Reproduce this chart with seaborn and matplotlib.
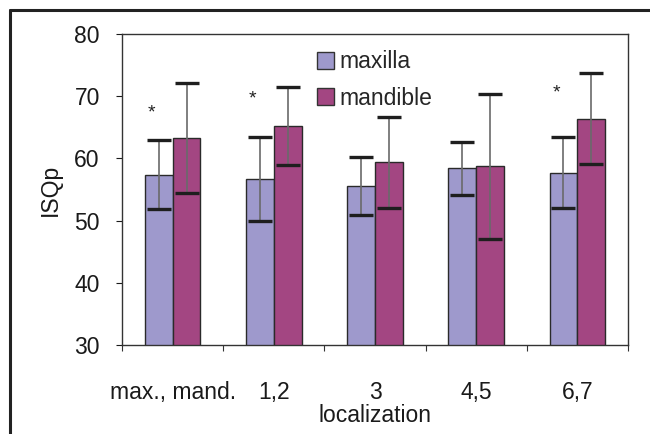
import matplotlib
matplotlib.use("Agg")
import matplotlib.pyplot as plt
from matplotlib.lines import Line2D
from matplotlib.patches import Patch
import numpy as np
import pandas as pd
import seaborn as sns

# ISQ values per implant localization (mean and SD)
categories = ["max., mand.", "1,2", "3", "4,5", "6,7"]
maxilla = [57.4, 56.7, 55.6, 58.4, 57.7]
maxilla_sd = [5.5, 6.7, 4.7, 4.3, 5.7]
mandible = [63.3, 65.2, 59.4, 58.7, 66.4]
mandible_sd = [8.9, 6.3, 7.3, 11.7, 7.3]
# significance marks: category index and height
star_idx = [0, 1, 4]
star_y = [67.3, 69.5, 70.5]

jaws = ["maxilla", "mandible"]
colors = ["#9E99CC", "#A34682"]
FS = 16.5

sns.set_theme(style="ticks")
plt.rcParams["font.family"] = ["Liberation Sans", "DejaVu Sans"]

df = pd.DataFrame({
    "localization": categories * 2,
    "ISQp": maxilla + mandible,
    "jaw": ["maxilla"] * len(categories) + ["mandible"] * len(categories),
})

fig = plt.figure(figsize=(6.5, 4.34), dpi=100)
ax = fig.add_axes([122 / 650, 1 - 345 / 434, 506 / 650, 311 / 434])

sns.barplot(data=df, x="localization", y="ISQp", hue="jaw", hue_order=jaws,
            order=categories, palette=colors, width=0.55, errorbar=None,
            edgecolor="#2a2a2a", linewidth=1.0, saturation=1, ax=ax)

# error bars centred on each bar: grey stems, dark caps
for cont, sd in zip(ax.containers, [maxilla_sd, mandible_sd]):
    xs = [p.get_x() + p.get_width() / 2 for p in cont.patches]
    ys = [p.get_height() + p.get_y() for p in cont.patches]
    _, caps, _ = ax.errorbar(xs, ys, yerr=sd, fmt="none", ecolor="#6a6a6a",
                             elinewidth=1.2, capsize=8.5, capthick=2.4, zorder=4)
    for c in caps:
        c.set_markeredgecolor("#1e1e1e")
        c.set_color("#1e1e1e")

# asterisks above the maxilla bars
max_bars = ax.containers[0].patches
for i, y in zip(star_idx, star_y):
    p = max_bars[i]
    ax.text(p.get_x() + p.get_width() / 2 - 0.07, y, "*", ha="center",
            va="center", fontsize=14, color="#222222")

ax.set_ylim(30, 80)
ax.set_yticks([30, 40, 50, 60, 70, 80])
ax.set_xlim(-0.5, len(categories) - 0.5)

ax.set_xticks(range(len(categories)))
ax.set_xticklabels(categories)
ax.set_xticks(np.arange(-0.5, len(categories)), minor=True)
ax.tick_params(axis="x", which="major", length=0, pad=26, labelsize=FS,
               colors="#1a1a1a")
ax.tick_params(axis="x", which="minor", length=4, width=0.8, color="#333333",
               direction="out")
ax.tick_params(axis="y", length=4, width=0.8, pad=12, labelsize=FS,
               colors="#1a1a1a", direction="out")

ax.set_xlabel("localization", fontsize=FS, labelpad=0, color="#1a1a1a")
ax.set_ylabel("ISQp", fontsize=FS, labelpad=9, color="#1a1a1a")

for s in ax.spines.values():
    s.set_visible(True)
    s.set_color("#333333")
    s.set_linewidth(1.0)

if ax.get_legend() is not None:
    ax.get_legend().remove()
handles = [Patch(facecolor=c, edgecolor="#333333", linewidth=1.0) for c in colors]
ax.legend(handles, jaws, loc="upper left", bbox_to_anchor=(0.385, 0.947),
          frameon=False, fontsize=FS, handlelength=0.75, handleheight=0.75,
          handletextpad=0.25, labelspacing=0.58, borderpad=0, borderaxespad=0)

# outer frame along the top and left
fig.add_artist(Line2D([10 / 650, 10 / 650], [0, 1 - 9.5 / 434],
                      transform=fig.transFigure, color="#222222", linewidth=2.2))
fig.add_artist(Line2D([10 / 650, 1], [1 - 9.5 / 434, 1 - 9.5 / 434],
                      transform=fig.transFigure, color="#222222", linewidth=2.2))

fig.savefig("out.png", dpi=100)
